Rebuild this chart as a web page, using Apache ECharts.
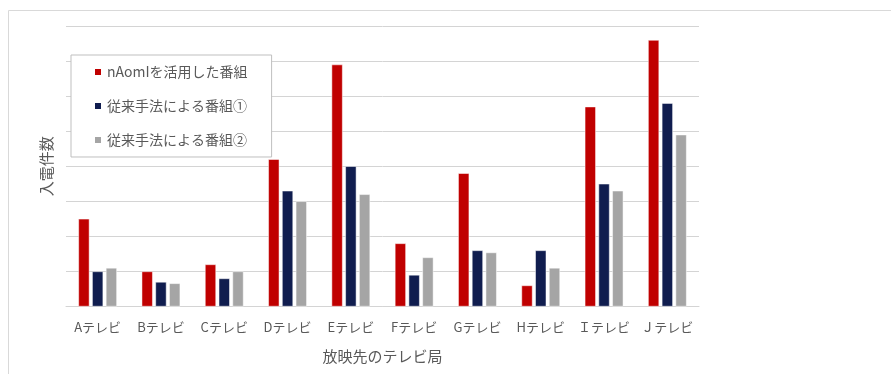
<!DOCTYPE html>
<html>
<head>
<meta charset="utf-8">
<script src="https://cdn.jsdelivr.net/npm/echarts@6/dist/echarts.min.js"></script>
<style>
  html, body { margin: 0; padding: 0; background: #fff; }
  #chart { width: 891px; height: 374px; }
</style>
</head>
<body>
<div id="chart"></div>
<script>
// データ
const categories = ['Aテレビ', 'Bテレビ', 'Cテレビ', 'Dテレビ', 'Eテレビ', 'Fテレビ', 'Gテレビ', 'Hテレビ', 'Ｉテレビ', 'Ｊテレビ'];
const seriesNames = ['nAomIを活用した番組', '従来手法による番組①', '従来手法による番組②'];
const naomiValues = [25, 10, 12, 42, 69, 18, 38, 6, 57, 76];
const method1Values = [10, 7, 8, 33, 40, 9, 16, 16, 35, 58];
const method2Values = [11, 6.6, 10, 30, 32, 14, 15.4, 11, 33, 49];

const colors = ['#c00000', '#101d4f', '#a5a5a5'];
const font = '"Noto Sans CJK JP", "Noto Sans", sans-serif';

const chart = echarts.init(document.getElementById('chart'));

function barSeries(name, data, color) {
  return {
    name: name,
    type: 'bar',
    data: data,
    barWidth: 11,
    barGap: '25%',
    itemStyle: { color: color, borderColor: '#ffffff', borderWidth: 0.5 }
  };
}

const option = {
  animation: false,
  color: colors,
  textStyle: { fontFamily: font },
  graphic: [
    {
      type: 'rect',
      shape: { x: 8.5, y: 10.5, width: 900, height: 400 },
      style: { fill: 'none', stroke: '#d9d9d9', lineWidth: 1 },
      silent: true
    }
  ],
  legend: {
    orient: 'vertical',
    left: 71,
    top: 55,
    padding: [10, 24, 10, 22],
    itemGap: 20,
    itemWidth: 8,
    itemHeight: 8,
    icon: 'rect',
    backgroundColor: '#ffffff',
    borderColor: '#bfbfbf',
    borderWidth: 1,
    textStyle: { color: '#595959', fontSize: 14, fontFamily: font },
    data: seriesNames
  },
  grid: { left: 66, right: 192, top: 26, bottom: 67.5 },
  xAxis: {
    type: 'category',
    data: categories,
    axisTick: { show: false },
    axisLine: { lineStyle: { color: '#d4d4d4', width: 1 } },
    axisLabel: { color: '#595959', fontSize: 13, margin: 14, interval: 0, fontFamily: font },
    name: '放映先のテレビ局',
    nameLocation: 'middle',
    nameGap: 42,
    nameTextStyle: { color: '#595959', fontSize: 15, fontFamily: font }
  },
  yAxis: {
    type: 'value',
    min: 0,
    max: 80,
    interval: 10,
    axisLabel: { show: false },
    axisLine: { show: false },
    axisTick: { show: false },
    splitLine: { lineStyle: { color: '#d4d4d4', width: 1 } },
    name: '入電件数',
    nameLocation: 'middle',
    nameRotate: 90,
    nameGap: 12,
    nameTextStyle: { color: '#595959', fontSize: 15, fontFamily: font }
  },
  series: [
    barSeries(seriesNames[0], naomiValues, colors[0]),
    barSeries(seriesNames[1], method1Values, colors[1]),
    barSeries(seriesNames[2], method2Values, colors[2])
  ]
};

chart.setOption(option);
window.addEventListener('resize', function () {
  chart.resize();
});
</script>
</body>
</html>
